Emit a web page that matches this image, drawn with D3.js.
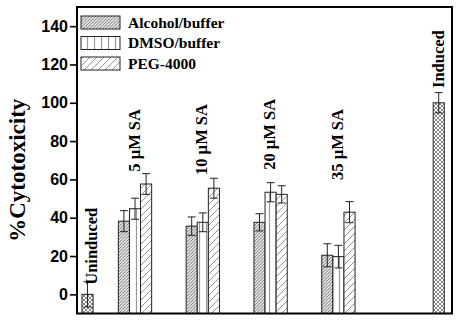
<!DOCTYPE html>
<html><head><meta charset="utf-8">
<script src="https://cdn.jsdelivr.net/npm/d3@7"></script>
<style>body{margin:0;background:#fff}svg{display:block}</style>
</head><body>
<svg id="c" width="462" height="325"></svg>
<script>
// ---- data ----
const groups = ["5 µM SA", "10 µM SA", "20 µM SA", "35 µM SA"];
const groupPos = [1, 2, 3, 4];
const groupLabelAt = [64, 62.3, 65, 59.7];
const series = ["Alcohol/buffer", "DMSO/buffer", "PEG-4000"];
const alcohol = [38.2, 35.6, 37.6, 20.4];
const alcoholErr = [5.5, 4.8, 4.5, 6.0];
const dmso = [44.7, 37.6, 53.3, 19.7];
const dmsoErr = [5.5, 4.9, 5.0, 5.9];
const peg = [57.6, 55.4, 52.2, 42.9];
const pegErr = [5.4, 5.2, 4.5, 5.5];
const controls = ["Uninduced", "Induced"];
const controlPos = [0.3, 5.48];
const controlVals = [0, 100];
const controlErr = [6.6, 5.3];
const controlLabelAt = [5, 107.7];
const yTicks = [0, 20, 40, 60, 80, 100, 120, 140];

// ---- layout ----
const svg = d3.select("#c");
const L = 77, R = 452, T = 7, B = 313.5;
const y = d3.scaleLinear().domain([-10, 150]).range([B, T]);
const x = d3.scaleLinear().domain([1, 4]).range([135, 338.4]);
const bw = 11.1;

const defs = svg.append("defs");
function hatch(id, size, paths, color, sw) {
  const p = defs.append("pattern").attr("id", id).attr("patternUnits", "userSpaceOnUse")
    .attr("width", size).attr("height", size);
  p.append("rect").attr("width", size).attr("height", size).attr("fill", "#fff");
  paths.forEach(d => p.append("path").attr("d", d).attr("stroke", color).attr("stroke-width", sw).attr("fill", "none"));
}
hatch("pAlc", 3.2, ["M0,3.2 L3.2,0", "M-0.8,0.8 L0.8,-0.8", "M2.4,4 L4,2.4"], "#666", 0.9);
hatch("pDmso", 7, ["M3.5,0 L3.5,7"], "#999", 1.2);
hatch("pPeg", 7, ["M0,7 L7,0", "M-1.75,1.75 L1.75,-1.75", "M5.25,8.75 L8.75,5.25"], "#888", 0.9);
hatch("pX", 4, ["M0,4 L4,0", "M0,0 L4,4"], "#666", 0.8);

const fills = ["url(#pAlc)", "url(#pDmso)", "url(#pPeg)"];
const vals = [alcohol, dmso, peg];
const errs = [alcoholErr, dmsoErr, pegErr];

function bar(cx, v, e, fill) {
  svg.append("rect").attr("x", cx - bw / 2).attr("y", y(v)).attr("width", bw)
    .attr("height", y(-10) - y(v)).attr("fill", fill).attr("stroke", "#222").attr("stroke-width", 1);
  const g = svg.append("g").attr("stroke", "#222").attr("stroke-width", 1);
  g.append("line").attr("x1", cx).attr("x2", cx).attr("y1", y(v - e)).attr("y2", y(v + e));
  [v - e, v + e].forEach(t => g.append("line").attr("x1", cx - 4).attr("x2", cx + 4).attr("y1", y(t)).attr("y2", y(t)));
}
function label(cx, at, txt) {
  svg.append("text").attr("transform", `translate(${cx},${y(at)}) rotate(-90)`)
    .attr("font-family", "Liberation Serif").attr("font-weight", "bold").attr("font-size", 16.5)
    .text(txt);
}

groups.forEach((gname, i) => {
  const c = x(groupPos[i]);
  series.forEach((s, j) => bar(c + (j - 1) * bw, vals[j][i], errs[j][i], fills[j]));
  label(c + 4.5, groupLabelAt[i], gname);
});
controls.forEach((cname, i) => {
  const c = x(controlPos[i]);
  bar(c, controlVals[i], controlErr[i], "url(#pX)");
  label(c + (i === 0 ? 9.5 : 5.5), controlLabelAt[i], cname);
});

// frame
svg.append("rect").attr("x", L).attr("y", T).attr("width", R - L).attr("height", B - T)
  .attr("fill", "none").attr("stroke", "#000").attr("stroke-width", 2);

// y axis
const ya = svg.append("g").attr("transform", `translate(${L},0)`)
  .call(d3.axisLeft(y).tickValues(yTicks).tickSize(7).tickPadding(2));
ya.select(".domain").remove();
ya.selectAll(".tick line").attr("stroke", "#000").attr("stroke-width", 1.6);
ya.selectAll("text").attr("font-family", "Liberation Sans").attr("font-weight", "bold")
  .attr("font-size", 16).attr("fill", "#000");

svg.append("text").attr("transform", `translate(25,${(y(-10) + y(150)) / 2 + 10}) rotate(-90)`)
  .attr("text-anchor", "middle").attr("font-family", "Liberation Serif").attr("font-weight", "bold")
  .attr("font-size", 23).text("%Cytotoxicity");

// legend
series.forEach((s, j) => {
  const yy = 16 + j * 20.5;
  svg.append("rect").attr("x", 81).attr("y", yy).attr("width", 39).attr("height", 13)
    .attr("fill", fills[j]).attr("stroke", "#222").attr("stroke-width", 1);
  svg.append("text").attr("x", 128).attr("y", yy + 11.5)
    .attr("font-family", "Liberation Serif").attr("font-weight", "bold").attr("font-size", 15.5)
    .text(s);
});
</script>
</body></html>
